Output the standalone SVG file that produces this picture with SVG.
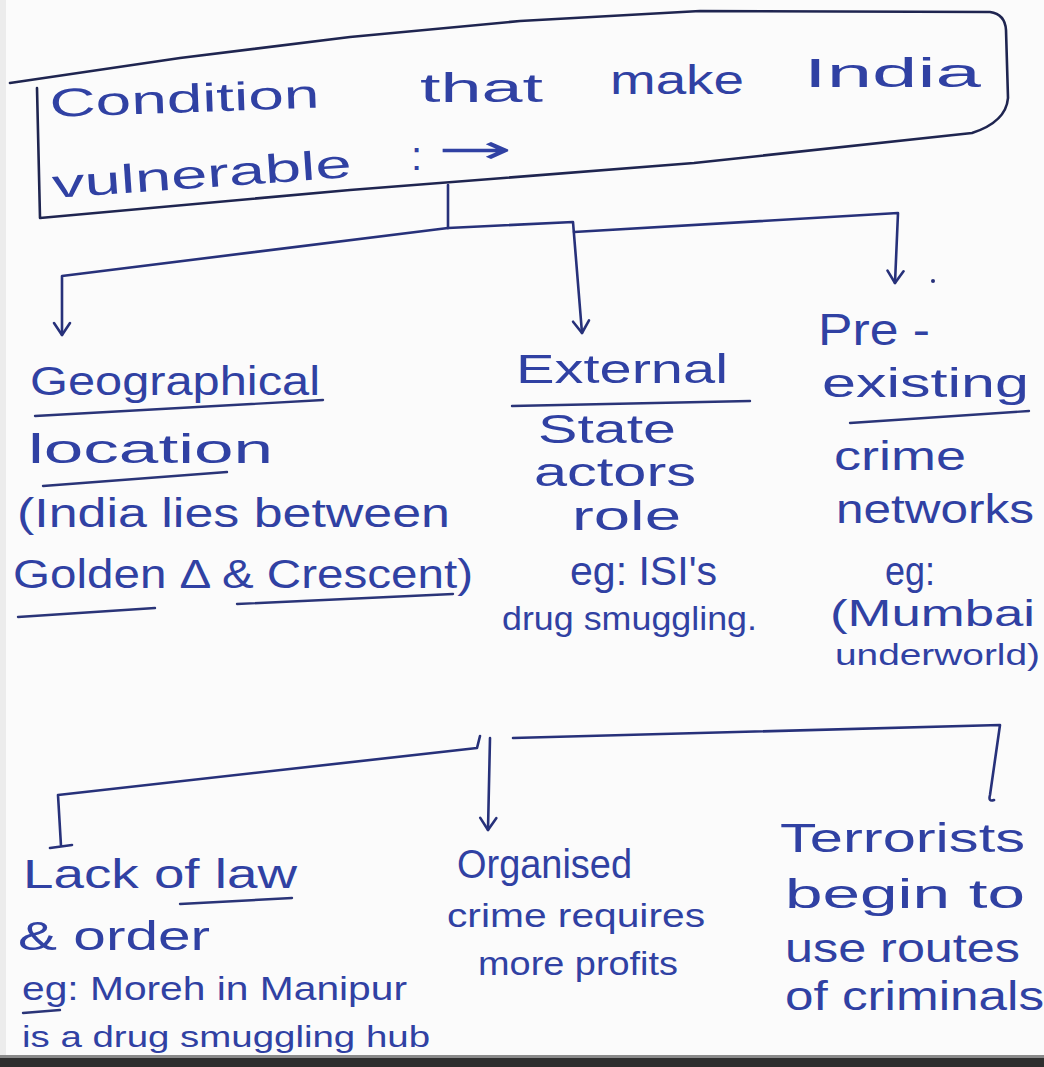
<svg xmlns="http://www.w3.org/2000/svg" width="1044" height="1067" viewBox="0 0 1044 1067">
<style>
.t{font-family:"Liberation Sans","DejaVu Sans",sans-serif;fill:#3041a3;font-size:40px}
.s{font-size:34px}
.xs{font-size:30px}
.ln{fill:none;stroke:#27317a;stroke-width:2.6;stroke-linecap:round;stroke-linejoin:round}
.box{fill:none;stroke:#1f2550;stroke-width:2.6;stroke-linecap:round;stroke-linejoin:round}
.ul{fill:none;stroke:#2a3478;stroke-width:2.4;stroke-linecap:round}
</style>
<defs>
<marker id="v" viewBox="-14 -10 16 20" markerWidth="16" markerHeight="20" refX="0" refY="0" orient="auto" markerUnits="userSpaceOnUse">
<path d="M-12,-8 L0,0 L-12,8" fill="none" stroke="#27317a" stroke-width="2.6" stroke-linecap="round" stroke-linejoin="round"/>
</marker>
</defs>
<rect width="1044" height="1067" fill="#fbfbfb"/>
<rect x="0" y="0" width="6" height="1067" fill="#ececec"/>
<rect x="0" y="1058" width="1044" height="9" fill="#2e2e2e"/>
<rect x="0" y="1055" width="1044" height="3" fill="#8a8a8a"/>

<g id="n-title">
<path class="box" d="M10,83 L180,58 L350,37 L520,21 L700,11 L990,12 Q1005,14 1006,30 L1008,98 Q1006,122 972,133 L694,163 L350,190 L40,218 L37,88"/>
<text class="t" x="50" y="117" textLength="270" lengthAdjust="spacingAndGlyphs" transform="rotate(-2 50 117)">Condition</text>
<text class="t" x="420" y="102" textLength="123" lengthAdjust="spacingAndGlyphs">that</text>
<text class="t" x="610" y="94" textLength="134" lengthAdjust="spacingAndGlyphs">make</text>
<text class="t" x="804" y="87" textLength="177" lengthAdjust="spacingAndGlyphs">India</text>
<text class="t" x="53" y="198" textLength="300" lengthAdjust="spacingAndGlyphs" transform="rotate(-4 53 198)">vulnerable</text>
<text class="t" x="411" y="170">:</text>
<text class="t" x="438" y="163" textLength="75" lengthAdjust="spacingAndGlyphs" style="font-family:'DejaVu Sans',sans-serif">→</text>
</g>

<g id="connectors">
<path class="ln" d="M448,185 L448,228"/>
<path class="ln" marker-end="url(#v)" d="M448,228 L62,276 L62,335"/>
<path class="ln" marker-end="url(#v)" d="M448,228 L573,222 L582,333"/>
<path class="ln" marker-end="url(#v)" d="M574,232 L898,213 L895,283"/>
<circle cx="933" cy="281" r="2" fill="#27317a"/>
<path class="ln" d="M50,848 L72,845 M61,846 L58,795 L477,748 L480,736"/>
<path class="ln" marker-end="url(#v)" d="M490,738 L488,830"/>
<path class="ln" d="M513,738 L1000,725 L990,795 Q988,802 994,800"/>
</g>

<g id="n-geo">
<text class="t" x="30" y="395" textLength="290" lengthAdjust="spacingAndGlyphs">Geographical</text>
<path class="ul" d="M35,416 L323,400"/>
<text class="t" x="28" y="463" textLength="245" lengthAdjust="spacingAndGlyphs">location</text>
<path class="ul" d="M43,486 L227,472"/>
<text class="t" x="17" y="527" textLength="433" lengthAdjust="spacingAndGlyphs">(India lies between</text>
<text class="t" x="13" y="588" textLength="460" lengthAdjust="spacingAndGlyphs">Golden Δ &amp; Crescent)</text>
<path class="ul" d="M237,604 L453,594"/>
<path class="ul" d="M18,617 L155,608"/>
</g>

<g id="n-ext">
<text class="t" x="516" y="383" textLength="212" lengthAdjust="spacingAndGlyphs">External</text>
<path class="ul" d="M512,406 L750,401"/>
<text class="t" x="538" y="443" textLength="138" lengthAdjust="spacingAndGlyphs">State</text>
<text class="t" x="534" y="486" textLength="162" lengthAdjust="spacingAndGlyphs">actors</text>
<text class="t" x="572" y="530" textLength="109" lengthAdjust="spacingAndGlyphs">role</text>
<text class="t" x="570" y="585" textLength="147" lengthAdjust="spacingAndGlyphs">eg: ISI's</text>
<text class="t s" x="502" y="630" textLength="255" lengthAdjust="spacingAndGlyphs">drug smuggling.</text>
</g>

<g id="n-pre">
<text class="t" x="818" y="345" textLength="112" lengthAdjust="spacingAndGlyphs" style="font-size:44px">Pre -</text>
<text class="t" x="822" y="397" textLength="207" lengthAdjust="spacingAndGlyphs">existing</text>
<path class="ul" d="M850,423 L1029,411"/>
<text class="t" x="834" y="470" textLength="132" lengthAdjust="spacingAndGlyphs">crime</text>
<text class="t" x="836" y="523" textLength="198" lengthAdjust="spacingAndGlyphs">networks</text>
<text class="t" x="885" y="585" textLength="50" lengthAdjust="spacingAndGlyphs">eg:</text>
<text class="t" x="830" y="626" textLength="205" lengthAdjust="spacingAndGlyphs" style="font-size:37px">(Mumbai</text>
<text class="t xs" x="835" y="665" textLength="205" lengthAdjust="spacingAndGlyphs">underworld)</text>
</g>

<g id="n-lack">
<text class="t" x="23" y="888" textLength="274" lengthAdjust="spacingAndGlyphs">Lack of law</text>
<path class="ul" d="M180,904 L292,898"/>
<text class="t" x="18" y="950" textLength="192" lengthAdjust="spacingAndGlyphs">&amp; order</text>
<text class="t s" x="22" y="1000" textLength="385" lengthAdjust="spacingAndGlyphs">eg: Moreh in Manipur</text>
<path class="ul" d="M23,1013 L60,1010"/>
<text class="t xs" x="22" y="1047" textLength="408" lengthAdjust="spacingAndGlyphs">is a drug smuggling hub</text>
</g>

<g id="n-org">
<text class="t" x="457" y="878" textLength="175" lengthAdjust="spacingAndGlyphs">Organised</text>
<text class="t s" x="447" y="927" textLength="258" lengthAdjust="spacingAndGlyphs">crime requires</text>
<text class="t s" x="478" y="975" textLength="200" lengthAdjust="spacingAndGlyphs">more profits</text>
</g>

<g id="n-terr">
<text class="t" x="780" y="852" textLength="245" lengthAdjust="spacingAndGlyphs">Terrorists</text>
<text class="t" x="785" y="908" textLength="240" lengthAdjust="spacingAndGlyphs">begin to</text>
<text class="t" x="785" y="962" textLength="235" lengthAdjust="spacingAndGlyphs">use routes</text>
<text class="t" x="785" y="1010" textLength="259" lengthAdjust="spacingAndGlyphs">of criminals</text>
</g>
</svg>
